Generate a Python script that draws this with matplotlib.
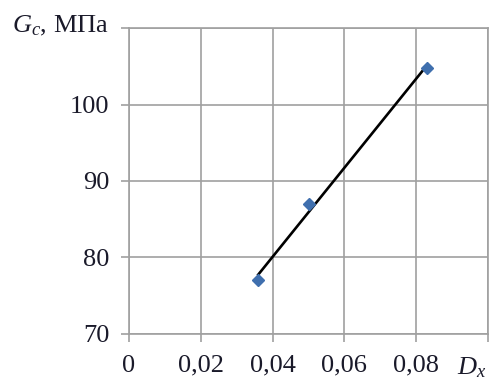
import numpy as np
import matplotlib
matplotlib.use("Agg")
import matplotlib.pyplot as plt

plt.rcParams['font.family'] = ['Liberation Serif', 'DejaVu Serif']
plt.rcParams['mathtext.fontset'] = 'custom'
plt.rcParams['mathtext.it'] = 'Liberation Serif:italic'
plt.rcParams['mathtext.rm'] = 'Liberation Serif'

# Measured points: dispersion D_x vs shear modulus G_c
dx = [0.036, 0.050, 0.083]
gc = [77.0, 87.0, 104.8]

x_ticks = [0, 0.02, 0.04, 0.06, 0.08, 0.10]
x_labels = ['0', '0,02', '0,04', '0,06', '0,08', '']
y_ticks = [70, 80, 90, 100, 110]
y_labels = ['70', '80', '90', '100', '']

grid_col = '#a0a0a0'
text_col = '#1a1a2a'

fig = plt.figure(figsize=(4.93, 3.87), dpi=100)
ax = fig.add_axes([0.2617, 0.137, 0.7282, 0.7906])

# Linear trend line over the data range
k, b = np.polyfit(dx, gc, 1)
xf = np.array([min(dx), max(dx)])
ax.plot(xf, k * xf + b, color='black', lw=1.9, zorder=3)

ax.plot(dx, gc, linestyle='none', marker='D', markersize=6,
        color='#3f6fae', markeredgecolor='#3f6fae', zorder=4)

ax.set_xlim(0, 0.10)
ax.set_ylim(70, 110)
ax.set_xticks(x_ticks)
ax.set_xticklabels(x_labels)
ax.set_yticks(y_ticks)
ax.set_yticklabels(y_labels)

ax.grid(True, color=grid_col, lw=1.2)
ax.set_axisbelow(True)
for s in ax.spines.values():
    s.set_color(grid_col)
    s.set_linewidth(1.2)

ax.tick_params(axis='both', direction='out', length=6, width=1.2,
               color=grid_col, labelsize=19, labelcolor=text_col)
ax.tick_params(axis='x', pad=9)
ax.tick_params(axis='y', pad=8)

fig.text(12 / 493, 1 - 26 / 387, r'$G_c$, МПа', fontsize=19, color=text_col,
         ha='left', va='center')
fig.text(457 / 493, 1 - 368 / 387, r'$D_x$', fontsize=19, color=text_col,
         ha='left', va='center')

fig.savefig('out.png', dpi=100)
